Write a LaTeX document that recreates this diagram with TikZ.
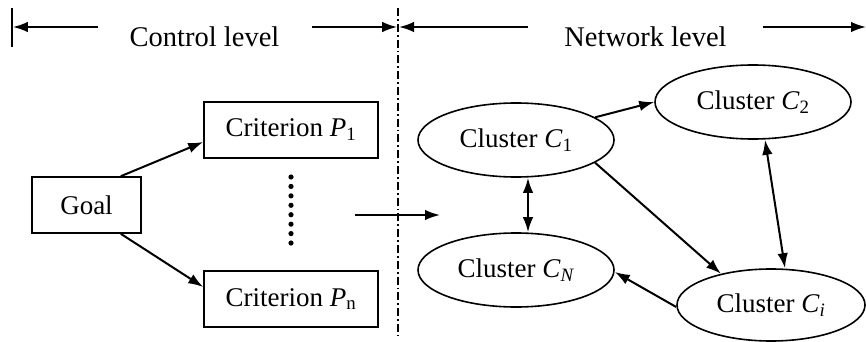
\documentclass[tikz,border=0pt]{standalone}
\usepackage{fontspec}
\setmainfont{Liberation Serif}
\usetikzlibrary{arrows.meta,shapes.geometric}
\begin{document}
\begin{tikzpicture}[x=1pt,y=-1pt,
  arr/.style={-{Latex[length=15pt,width=10.5pt]}, line width=2pt},
  darr/.style={{Latex[length=15pt,width=10.5pt]}-{Latex[length=15pt,width=10.5pt]}, line width=2pt},
  box/.style={draw, line width=1.6pt, inner sep=0pt, font=\fontsize{27}{30}\selectfont},
  clus/.style={draw, ellipse, line width=1.6pt, inner sep=0pt, minimum width=196pt, minimum height=74pt, font=\fontsize{27}{30}\selectfont},
  hdr/.style={font=\fontsize{28.5}{31}\selectfont, inner sep=0pt, anchor=base},
  divider/.style={line width=1.4pt, dash pattern=on 8pt off 3pt on 1.8pt off 3pt}]
\useasboundingbox (0,0) rectangle (866,342);
% header
\draw[line width=1.6pt] (12,8) -- (12,47);
\coordinate (a1) at (98,27);
\coordinate (a2) at (12.8,27);
\coordinate (b1) at (312,27);
\coordinate (b2) at (397.2,27);
\coordinate (c1s) at (528,27);
\coordinate (c2s) at (399,27);
\coordinate (d1) at (763,27);
\coordinate (d2) at (866,27);
\draw[arr] (a1) -- (a2);
\draw[arr] (b1) -- (b2);
\draw[arr] (c1s) -- (c2s);
\draw[arr] (d1) -- (d2);
\node[hdr] (ctl) at (204.5,47) {Control level};
\node[hdr] (net) at (645.5,47) {Network level};
% divider
\coordinate (v1) at (398,8);
\coordinate (v2) at (398,336);
\draw[divider] (v1) -- (v2);
% control part
\node[box, minimum width=109pt, minimum height=56pt] (goal) at (86.5,205) {Goal};
\node[box, minimum width=174pt, minimum height=56pt] (p1) at (291,130) {Criterion \textit{P}\textsubscript{1}};
\node[box, minimum width=174pt, minimum height=56pt] (pn) at (291,299) {Criterion \textit{P}\textsubscript{n}};
\draw[arr] ([xshift=-21pt]goal.north east) -- ([yshift=-12pt]p1.west);
\draw[arr] ([xshift=-21pt]goal.south east) -- ([yshift=12pt]pn.west);
\foreach \i in {0,...,7} \fill (291,177+9.43*\i) circle (2.6pt);
\coordinate (m1) at (355,215);
\coordinate (m2) at (440,215);
\draw[arr] (m1) -- (m2);
% network part
\node[clus] (cc1) at (516,140) {Cluster \textit{C}\textsubscript{1}};
\node[clus] (cc2) at (753,102) {Cluster \textit{C}\textsubscript{2}};
\node[clus] (ccn) at (516,270) {Cluster \textit{C}\textsubscript{\textit{N}}};
\node[clus, minimum width=188pt, minimum height=72pt] (cci) at (771,305) {Cluster \textit{C}\textsubscript{\textit{i}}};
\draw[arr] (cc1.16) -- (cc2.west);
\draw[darr] ([xshift=12pt]cc1.south) -- ([xshift=12pt]ccn.north);
\draw[arr] (cc1.-16) -- (cci.148);
\draw[darr] ([xshift=12pt]cc2.south) -- ([xshift=14pt]cci.north);
\draw[arr] ([yshift=-2pt]cci.west) -- ([yshift=-2pt]ccn.east);
\end{tikzpicture}
\end{document}
